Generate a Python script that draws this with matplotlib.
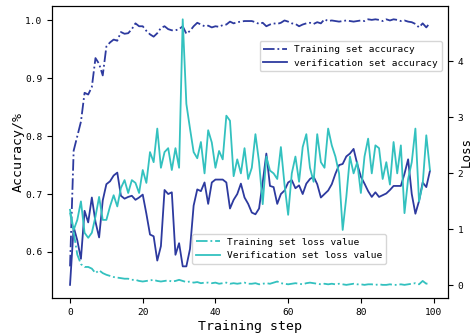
import numpy as np
import matplotlib
matplotlib.use("Agg")
from matplotlib import pyplot as plt

steps = np.arange(100)

train_acc = [0.575, 0.775, 0.80, 0.825, 0.875, 0.872, 0.885, 0.935, 0.925, 0.905,
             0.955, 0.962, 0.967, 0.965, 0.98, 0.977, 0.978, 0.985, 0.995, 0.99,
             0.99, 0.982, 0.976, 0.972, 0.978, 0.987, 0.99, 0.985, 0.983, 0.983,
             0.985, 0.99, 0.977, 0.982, 0.99, 0.996, 0.993, 0.99, 0.991, 0.988,
             0.99, 0.989, 0.992, 0.993, 0.998, 0.995, 0.997, 0.998, 0.999, 0.999,
             0.999, 0.997, 0.994, 0.996, 0.99, 0.993, 0.995, 0.994, 0.996, 1.0,
             0.998, 0.995, 0.994, 0.99, 0.993, 0.995, 0.996, 0.994, 0.997, 0.995,
             1.002, 0.999, 1.0, 0.999, 0.998, 0.999, 1.0, 0.999, 0.998, 0.999,
             1.0, 0.999, 1.002, 1.001, 1.002, 1.001, 0.999, 1.002, 1.0, 1.002,
             1.001, 0.999, 1.0, 0.998, 0.997, 0.994, 0.988, 0.995, 0.988, 0.996]

val_acc = [0.543, 0.643, 0.62, 0.588, 0.671, 0.651, 0.694, 0.652, 0.625, 0.689,
           0.717, 0.722, 0.732, 0.737, 0.697, 0.692, 0.695, 0.697, 0.69, 0.694,
           0.699, 0.666, 0.63, 0.627, 0.585, 0.61, 0.707, 0.70, 0.703, 0.595,
           0.615, 0.575, 0.575, 0.605, 0.68, 0.708, 0.705, 0.72, 0.683, 0.72,
           0.725, 0.725, 0.725, 0.72, 0.675, 0.69, 0.70, 0.718, 0.694, 0.683,
           0.668, 0.665, 0.675, 0.72, 0.77, 0.714, 0.712, 0.683, 0.70, 0.706,
           0.72, 0.724, 0.71, 0.715, 0.70, 0.718, 0.726, 0.73, 0.717, 0.694,
           0.70, 0.706, 0.717, 0.735, 0.75, 0.752, 0.765, 0.77, 0.778, 0.752,
           0.73, 0.718, 0.705, 0.695, 0.703, 0.695, 0.698, 0.701, 0.707, 0.714,
           0.714, 0.714, 0.735, 0.76, 0.70, 0.666, 0.688, 0.72, 0.712, 0.74]

train_loss = [1.30, 0.95, 0.55, 0.38, 0.33, 0.33, 0.30, 0.22, 0.27, 0.22,
              0.19, 0.17, 0.15, 0.14, 0.13, 0.12, 0.12, 0.10, 0.10, 0.08,
              0.07, 0.08, 0.09, 0.10, 0.08, 0.07, 0.08, 0.09, 0.07, 0.08,
              0.10, 0.08, 0.06, 0.07, 0.05, 0.06, 0.04, 0.05, 0.05, 0.04,
              0.05, 0.03, 0.04, 0.05, 0.03, 0.04, 0.03, 0.04, 0.05, 0.03,
              0.03, 0.04, 0.02, 0.03, 0.04, 0.03, 0.05, 0.07, 0.04, 0.03,
              0.02, 0.03, 0.04, 0.03, 0.02, 0.04, 0.05, 0.04, 0.03, 0.02,
              0.03, 0.02, 0.03, 0.02, 0.03, 0.02, 0.01, 0.02, 0.03, 0.02,
              0.02, 0.01, 0.02, 0.02, 0.01, 0.02, 0.01, 0.01, 0.02, 0.01,
              0.01, 0.02, 0.01, 0.02, 0.03, 0.04, 0.02, 0.08, 0.03, 0.05]

val_loss = [1.35, 0.99, 1.17, 1.50, 0.94, 0.85, 0.94, 1.23, 1.58, 1.17,
            1.17, 1.41, 1.61, 1.41, 1.74, 1.88, 1.65, 1.88, 1.83, 1.65,
            2.06, 1.83, 2.38, 2.20, 2.80, 2.10, 2.38, 2.45, 2.06, 2.45,
            2.10, 4.75, 3.24, 2.80, 2.38, 2.27, 2.56, 2.00, 2.77, 2.55,
            2.10, 2.40, 2.25, 3.03, 2.94, 1.95, 2.25, 2.00, 2.45, 1.90,
            2.10, 2.70, 2.20, 1.45, 2.30, 2.05, 2.00, 1.90, 2.47, 1.80,
            1.26, 2.00, 2.30, 1.85, 2.47, 2.70, 2.10, 1.85, 2.70, 2.20,
            2.10, 2.80, 2.50, 2.30, 2.00, 0.99, 1.58, 2.30, 2.00, 2.20,
            1.65, 2.30, 2.62, 2.00, 2.50, 2.45, 1.90, 2.20, 1.80, 2.56,
            2.00, 2.50, 1.29, 1.90, 2.20, 2.80, 1.50, 1.80, 2.68, 2.06]

blue = '#2d3a9f'
cyan = '#33c1bf'

plt.rcParams['font.family'] = ['DejaVu Sans Mono']

fig = plt.figure(figsize=(4.73, 3.35), dpi=100)
ax = fig.add_axes([0.110, 0.110, 0.837, 0.872])
ax.plot(steps, train_acc, '-.', color=blue, lw=1.3, label='Training set accuracy')
ax.plot(steps, val_acc, '-', color=blue, lw=1.3, label='verification set accuracy')
ax.set_yticks([0.6, 0.7, 0.8, 0.9, 1.0])
ax.set_xticks([0, 20, 40, 60, 80, 100])
ax.tick_params(labelsize=6.8)
ax.set_xlabel('Training step', fontsize=9.5)
ax.set_ylabel('Accuracy/%', fontsize=9.5)
ax.xaxis.set_label_coords(0.5, -0.075)
ax.yaxis.set_label_coords(-0.07, 0.5)
ax.legend(loc='upper right', bbox_to_anchor=(0.985, 0.88), borderaxespad=0,
          fontsize=6.8, handlelength=2.5, handletextpad=0.8)

ax2 = ax.twinx()
ax2.plot(steps, train_loss, '-.', color=cyan, lw=1.3, label='Training set loss value')
ax2.plot(steps, val_loss, '-', color=cyan, lw=1.3, label='Verification set loss value')
ax2.set_yticks([0, 1, 2, 3, 4])
ax2.tick_params(labelsize=6.8)
ax2.set_ylabel('Loss', fontsize=9)
ax2.yaxis.set_label_coords(1.031, 0.5)
ax2.legend(loc='lower left', bbox_to_anchor=(0.354, 0.116), borderaxespad=0,
           fontsize=6.8, handlelength=2.5, handletextpad=0.8)

fig.savefig('out.png', dpi=100)
